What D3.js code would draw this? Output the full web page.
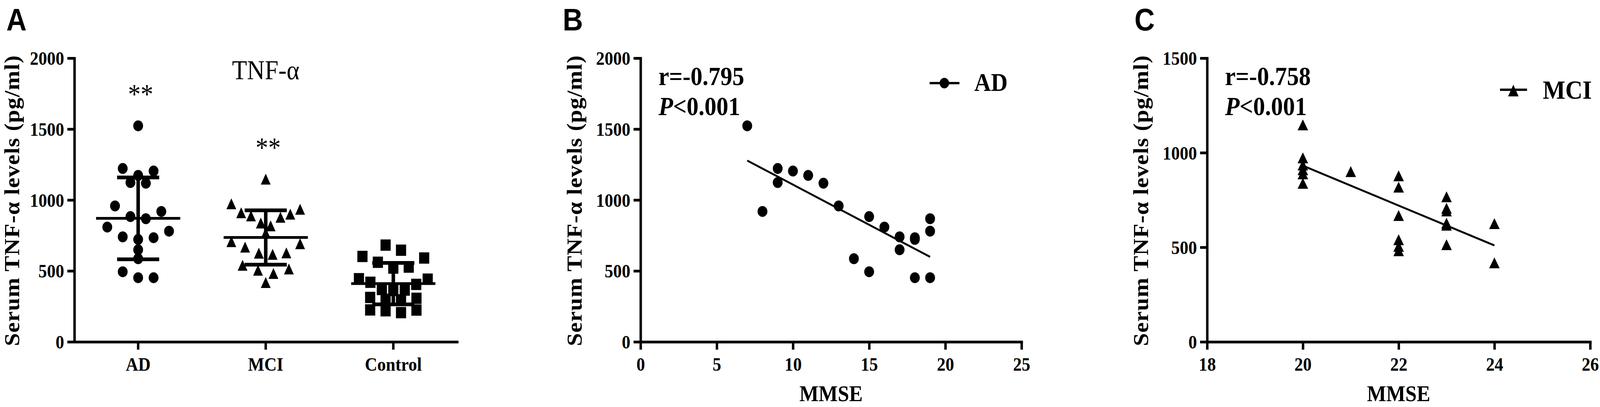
<!DOCTYPE html>
<html>
<head>
<meta charset="utf-8">
<script src="https://cdn.jsdelivr.net/npm/d3@7/dist/d3.min.js"></script>
<style>
  html, body { margin: 0; padding: 0; background: #fff; overflow: hidden; width: 100%; height: 100%; }
  svg { display: block; width: 100vw; height: 100vh; }
</style>
</head>
<body>
<script>
// ---------------- DATA ----------------
const groupNames = ["AD", "MCI", "Control"];
const significance = ["**", "**", ""];

// AD patients: MMSE score and serum TNF-α (pg/ml)
const adMMSE = [7, 8, 9, 9, 10, 11, 12, 13, 14, 15, 15, 16, 17, 17, 18, 18, 18, 19, 19, 19];
const adTNF  = [1523, 919, 1222, 1123, 1204, 1173, 1118, 958, 586, 883, 494, 809, 740, 649, 734, 722, 452, 868, 780, 452];

// MCI patients
const mciMMSE = [20, 20, 20, 20, 20, 20, 21, 22, 22, 22, 22, 22, 22, 23, 23, 23, 23, 23, 23, 24, 24];
const mciTNF  = [1147, 973, 935, 910, 888, 838, 900, 878, 818, 668, 540, 505, 482, 767, 706, 692, 627, 617, 514, 625, 418];

// Controls
const controlTNF = [682, 646, 602, 591, 561, 527, 520, 445, 442, 420, 405, 369, 365, 362, 313, 307, 300, 296, 225, 224, 219, 206];

const yTicksAB = [0, 500, 1000, 1500, 2000];
const yTicksC  = [0, 500, 1000, 1500];
const xTicksB  = [0, 5, 10, 15, 20, 25];
const xTicksC  = [18, 20, 22, 24, 26];

const corrB = { r: "r=-0.795", p: "<0.001", legend: "AD" };
const corrC = { r: "r=-0.758", p: "<0.001", legend: "MCI" };

const panelLetters = ["A", "B", "C"];
const yTitle = "Serum TNF-α levels (pg/ml)";
const xTitle = "MMSE";
const titleA = "TNF-α";

// ---------------- LAYOUT ----------------
const W = 4561, H = 1043;
const SERIF = "'Liberation Serif', 'Times New Roman', serif";
const SANS = "'Liberation Sans', Arial, sans-serif";
const yTop = 149, yBottom = 876;
const AX = 7;

const svg = d3.select("body").append("svg")
  .attr("viewBox", `0 0 ${W} ${H}`)
  .attr("preserveAspectRatio", "none");
svg.append("rect").attr("width", W).attr("height", H).attr("fill", "#fff");

function triangleType(w, h) {
  return { draw(ctx) { ctx.moveTo(0, -h / 2); ctx.lineTo(w / 2, h / 2); ctx.lineTo(-w / 2, h / 2); ctx.closePath(); } };
}
const circlePath = d3.symbol(d3.symbolCircle, Math.PI * 14 * 14)();
const squarePath = d3.symbol(d3.symbolSquare, 29 * 29)();
const triPathA = d3.symbol(triangleType(28, 28))();
const triPathC = d3.symbol(triangleType(30, 28))();
const triPathLeg = d3.symbol(triangleType(30, 30))();

function styleAxis(g) {
  g.selectAll(".domain").attr("stroke", "#000").attr("stroke-width", AX).attr("stroke-linecap", "square");
  g.selectAll(".tick line").attr("stroke", "#000").attr("stroke-width", AX);
  g.selectAll(".tick text").attr("fill", "#000")
    .style("font-family", SERIF).style("font-weight", "bold").style("font-size", "49px");
}

function yAxis(x0, yScale, ticks) {
  const g = svg.append("g").attr("transform", `translate(${x0},0)`)
    .call(d3.axisLeft(yScale).tickValues(ticks).tickSize(20).tickSizeOuter(0).tickPadding(9).tickFormat(d3.format("d")));
  styleAxis(g);
  g.selectAll(".tick text").attr("dy", "0.34em");
  return g;
}

function xAxis(g, axis) {
  g.attr("transform", `translate(0,${yBottom})`).call(axis);
  styleAxis(g);
  g.selectAll(".tick text").attr("dy", 0).attr("y", 950 - yBottom);
}

function yAxisTitle(x0) {
  const fs = 60;
  const base = Math.max(x0 - 168, Math.ceil(0.9 * fs) + 1); // keep the glyph box inside the page
  svg.append("text")
    .attr("transform", `translate(${base},${(yTop + yBottom) / 2 + 2}) rotate(-90)`)
    .attr("text-anchor", "middle")
    .attr("textLength", 745).attr("lengthAdjust", "spacing")
    .style("font-family", SERIF).style("font-weight", "bold").style("font-size", `${fs}px`)
    .text(yTitle);
}

function panelLetter(letter, x) {
  svg.append("text").attr("x", x).attr("y", 78)
    .style("font-family", SANS).style("font-weight", "bold").style("font-size", "80px")
    .text(letter);
}

// beeswarm-like layout: rows of close values spread horizontally, outer-in
function swarmOffsets(values, yScale) {
  const idx = d3.range(values.length).sort((a, b) => values[b] - values[a]);
  const groups = [];
  let cur = [];
  idx.forEach((i, k) => {
    if (k > 0 && Math.abs(yScale(values[i]) - yScale(values[idx[k - 1]])) > 15.5) { groups.push(cur); cur = []; }
    cur.push(i);
  });
  if (cur.length) groups.push(cur);
  const off = new Array(values.length).fill(0);
  groups.forEach(gr => {
    const n = gr.length;
    if (n === 1) return;
    const step = Math.min(44, 196 / (n - 1));
    const slots = d3.range(n).map(i => (i - (n - 1) / 2) * step);
    const order = [];
    let lo = 0, hi = n - 1;
    while (lo <= hi) {
      order.push(slots[lo]);
      if (hi !== lo) order.push(slots[hi]);
      lo++; hi--;
    }
    gr.forEach((vi, k) => { off[vi] = order[k]; });
  });
  return off;
}

// ---------------- PANEL A ----------------
(function () {
  const x0 = 212, x1 = 1303;
  const y = d3.scaleLinear().domain([0, 2000]).range([yBottom, yTop]);
  const x = d3.scaleBand().domain(groupNames).range([x0, x1]);
  const groupData = [adTNF, mciTNF, controlTNF];
  const shapes = [circlePath, triPathA, squarePath];

  panelLetter(panelLetters[0], 18);
  yAxisTitle(x0);

  groupData.forEach((vals, gi) => {
    const cx = x(groupNames[gi]) + x.bandwidth() / 2;
    const offs = swarmOffsets(vals, y);
    svg.append("g").selectAll("path").data(vals).join("path")
      .attr("d", shapes[gi])
      .attr("transform", (d, i) => `translate(${cx + offs[i]},${y(d)})`)
      .attr("fill", "#000");

    const m = d3.mean(vals), sd = d3.deviation(vals);
    const eg = svg.append("g").attr("stroke", "#000");
    eg.append("line").attr("x1", cx).attr("x2", cx).attr("y1", y(m + sd)).attr("y2", y(m - sd)).attr("stroke-width", 10);
    eg.append("line").attr("x1", cx - 60).attr("x2", cx + 60).attr("y1", y(m + sd)).attr("y2", y(m + sd)).attr("stroke-width", 9.5);
    eg.append("line").attr("x1", cx - 60).attr("x2", cx + 60).attr("y1", y(m - sd)).attr("y2", y(m - sd)).attr("stroke-width", 9.5);
    eg.append("line").attr("x1", cx - 120).attr("x2", cx + 120).attr("y1", y(m)).attr("y2", y(m)).attr("stroke-width", 7);

    if (significance[gi]) {
      svg.append("text").attr("x", cx + 7).attr("y", y(d3.max(vals)) - 57)
        .attr("text-anchor", "middle")
        .style("font-family", SERIF).style("font-size", "72px")
        .text(significance[gi]);
    }
  });

  yAxis(x0, y, yTicksAB);
  xAxis(svg.append("g"), d3.axisBottom(x).tickSize(20).tickSizeOuter(0));

  svg.append("text").attr("x", (x0 + x1) / 2).attr("y", 203).attr("text-anchor", "middle")
    .style("font-family", SERIF).style("font-size", "70px").text(titleA);
})();

// ---------------- CORRELATION PANELS ----------------
function corrPanel(opt) {
  const { x0, x1, xDomain, xTicks, yMax, yTicks, xs, ys, marker, letter, letterX, stats, legend } = opt;
  const x = d3.scaleLinear().domain(xDomain).range([x0, x1]);
  const y = d3.scaleLinear().domain([0, yMax]).range([yBottom, yTop]);

  panelLetter(letter, letterX);
  yAxisTitle(x0);

  // least-squares fit line over the data range
  const mx = d3.mean(xs), my = d3.mean(ys);
  let sxy = 0, sxx = 0;
  xs.forEach((xv, i) => { sxy += (xv - mx) * (ys[i] - my); sxx += (xv - mx) * (xv - mx); });
  const slope = sxy / sxx, icpt = my - slope * mx;
  const ext = d3.extent(xs);
  svg.append("line")
    .attr("x1", x(ext[0])).attr("y1", y(icpt + slope * ext[0]))
    .attr("x2", x(ext[1])).attr("y2", y(icpt + slope * ext[1]))
    .attr("stroke", "#000").attr("stroke-width", 5);

  svg.append("g").selectAll("path").data(ys).join("path")
    .attr("d", marker)
    .attr("transform", (d, i) => `translate(${x(xs[i])},${y(d)})`)
    .attr("fill", "#000");

  yAxis(x0, y, yTicks);
  xAxis(svg.append("g"), d3.axisBottom(x).tickValues(xTicks).tickSize(20).tickSizeOuter(0).tickFormat(d3.format("d")));

  svg.append("text").attr("x", (x0 + x1) / 2).attr("y", 1028).attr("text-anchor", "middle")
    .style("font-family", SERIF).style("font-weight", "bold").style("font-size", "58px").text(xTitle);

  svg.append("text").attr("x", x0 + 51).attr("y", 218)
    .style("font-family", SERIF).style("font-weight", "bold").style("font-size", "68px").text(stats.r);
  const pt = svg.append("text").attr("x", x0 + 51).attr("y", 295)
    .style("font-family", SERIF).style("font-weight", "bold").style("font-size", "68px");
  pt.append("tspan").style("font-style", "italic").text("P");
  pt.append("tspan").text(stats.p);

  // legend
  svg.append("line").attr("x1", legend.lx1).attr("x2", legend.lx2).attr("y1", legend.ly).attr("y2", legend.ly)
    .attr("stroke", "#000").attr("stroke-width", 6);
  svg.append("path").attr("d", legend.marker)
    .attr("transform", `translate(${legend.mx},${legend.my})`).attr("fill", "#000");
  svg.append("text").attr("x", legend.tx).attr("y", legend.ty)
    .style("font-family", SERIF).style("font-weight", "bold").style("font-size", `${legend.fs}px`)
    .text(stats.legend);
}

corrPanel({
  x0: 1826, x1: 2912, xDomain: [0, 25], xTicks: xTicksB, yMax: 2000, yTicks: yTicksAB,
  xs: adMMSE, ys: adTNF, marker: circlePath, letter: panelLetters[1], letterX: 1604, stats: corrB,
  legend: { lx1: 2650, lx2: 2735, ly: 213, mx: 2692, my: 213, marker: d3.symbol(d3.symbolCircle, Math.PI * 13.5 * 13.5)(), tx: 2777, ty: 233, fs: 66 }
});

corrPanel({
  x0: 3441, x1: 4533, xDomain: [18, 26], xTicks: xTicksC, yMax: 1500, yTicks: yTicksC,
  xs: mciMMSE, ys: mciTNF, marker: triPathC, letter: panelLetters[2], letterX: 3234, stats: corrC,
  legend: { lx1: 4276, lx2: 4353, ly: 230, mx: 4314, my: 232, marker: triPathLeg, tx: 4398, ty: 253, fs: 68 }
});
</script>
</body>
</html>
